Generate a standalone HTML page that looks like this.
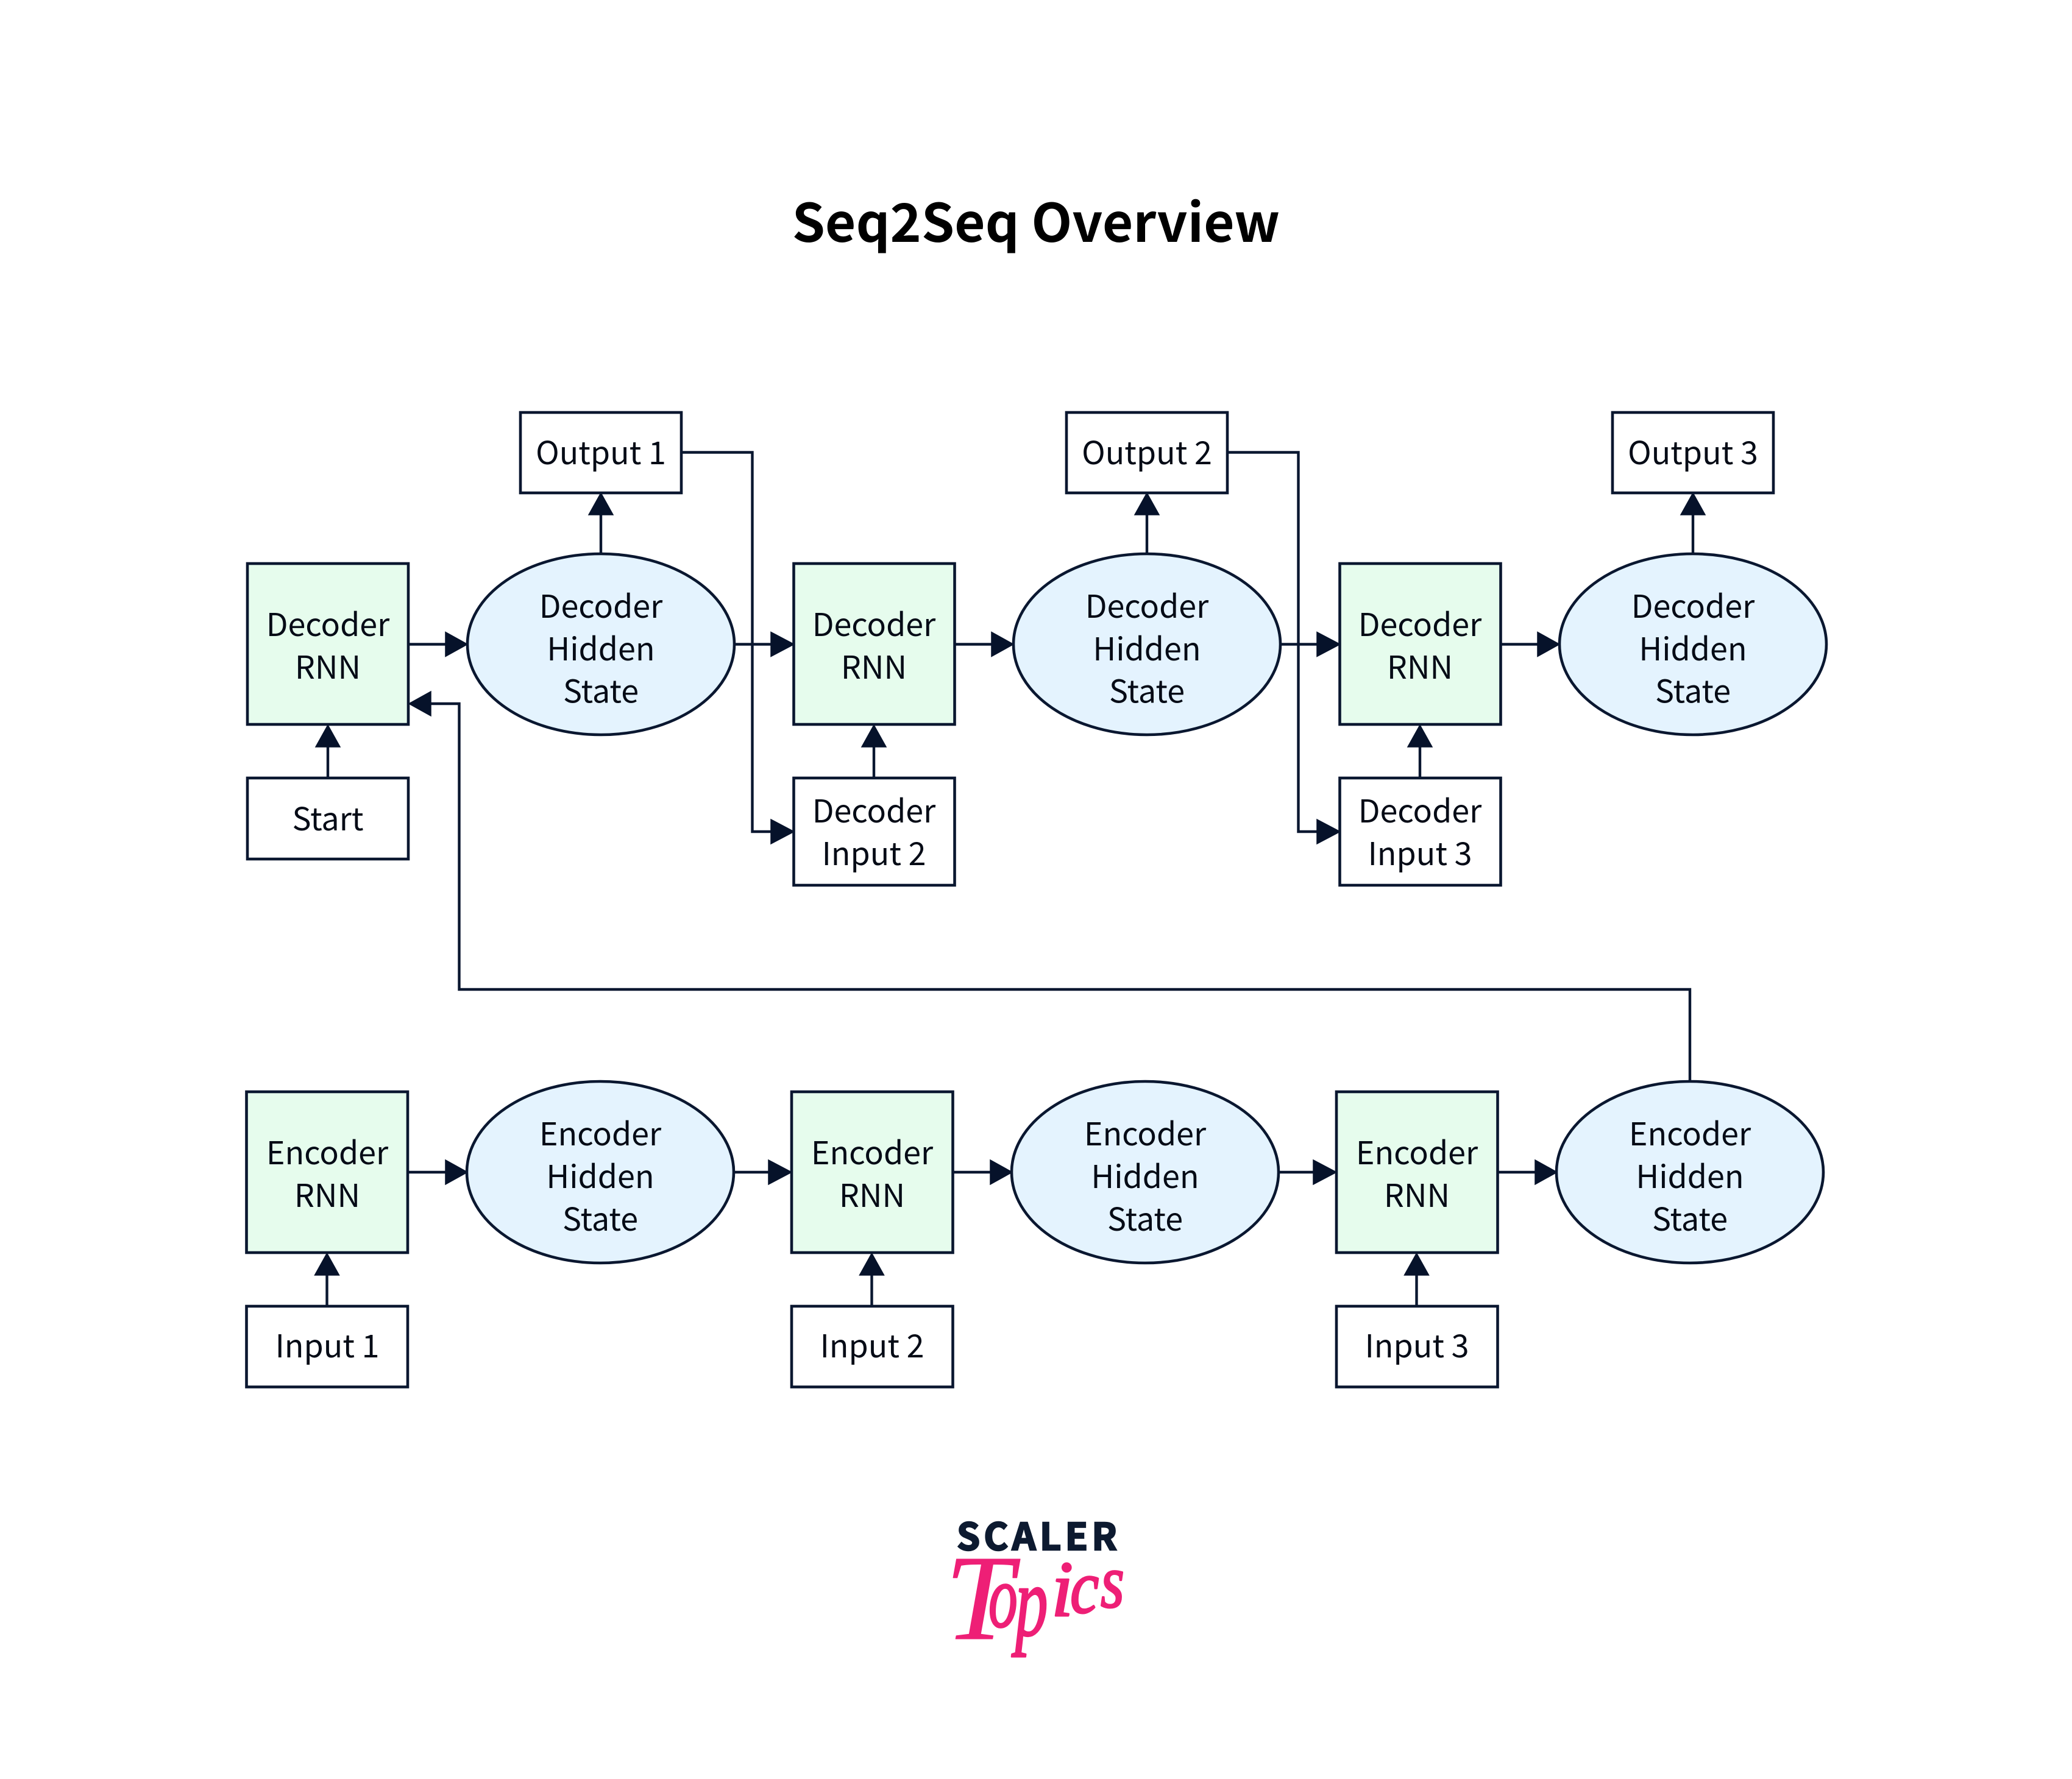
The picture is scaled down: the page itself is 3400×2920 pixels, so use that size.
<!DOCTYPE html>
<html><head><meta charset="utf-8"><style>
html,body{margin:0;padding:0;background:#fff}
svg{display:block}
.b{fill:#fff;stroke:#0a1730;stroke-width:4.6}
.g{fill:#e6fced;stroke:#0a1730;stroke-width:4.6}
.e{fill:#e4f3fe;stroke:#0a1730;stroke-width:4.6}
.l{fill:none;stroke:#0a1730;stroke-width:4.4}
.h{fill:#06122a;stroke:#06122a;stroke-width:1.5}
.t{font-family:"Noto Sans CJK JP","Liberation Sans",sans-serif;font-size:52px;fill:#050b16;text-anchor:middle}
.title{font-family:"Noto Sans CJK JP","Liberation Sans",sans-serif;font-size:87px;font-weight:700;fill:#000;text-anchor:middle}
.sc{font-family:"Noto Sans CJK JP","Liberation Sans",sans-serif;font-size:61px;font-weight:700;fill:#0d1a30;stroke:#0d1a30;stroke-width:2.5}
.tp{font-family:"Liberation Serif",serif;font-style:italic;fill:#ee1f76;stroke:#ee1f76;stroke-width:3;stroke-linejoin:round}
</style></head><body>
<svg width="3400" height="2920" viewBox="0 0 3400 2920" xmlns="http://www.w3.org/2000/svg">
<rect width="3400" height="2920" fill="#fff"/>
<text class="title" x="1700" y="397">Seq2Seq Overview</text>

<!-- top connectors -->
<path class="l" d="M670 1057.5H733M1205 1057.5H1267M1567 1057.5H1629M2101 1057.5H2163M2462 1057.5H2525
M986 909V844M1882 909V844M2778 909V844
M538 1277V1225M1434 1277V1225M2330 1277V1225
M1118 742.5H1234.5V1365H1267M2014 742.5H2130.5V1365H2163
M2773 1774V1624H753.5V1155H705"/>
<g class="h">
<path d="M731 1037.5L767 1057.5L731 1077.5Z"/>
<path d="M1265 1037.5L1303 1057.5L1265 1077.5Z"/>
<path d="M1627 1037.5L1663 1057.5L1627 1077.5Z"/>
<path d="M2161 1037.5L2199 1057.5L2161 1077.5Z"/>
<path d="M2523 1037.5L2559 1057.5L2523 1077.5Z"/>
<path d="M966 845L986 809L1006 845Z"/>
<path d="M1862 845L1882 809L1902 845Z"/>
<path d="M2758 845L2778 809L2798 845Z"/>
<path d="M518 1226L538 1190L558 1226Z"/>
<path d="M1414 1226L1434 1190L1454 1226Z"/>
<path d="M2310 1226L2330 1190L2350 1226Z"/>
<path d="M1265 1345L1303 1365L1265 1385Z"/>
<path d="M2161 1345L2199 1365L2161 1385Z"/>
<path d="M707 1135L671 1155L707 1175Z"/>
</g>

<!-- top nodes -->
<rect class="b" x="854" y="677" width="264" height="132"/>
<rect class="b" x="1750" y="677" width="264" height="132"/>
<rect class="b" x="2646" y="677" width="264" height="132"/>
<rect class="g" x="406" y="925" width="264" height="264"/>
<rect class="g" x="1302.5" y="925" width="264" height="264"/>
<rect class="g" x="2198.5" y="925" width="264" height="264"/>
<ellipse class="e" cx="986" cy="1057.5" rx="219" ry="148.5"/>
<ellipse class="e" cx="1882" cy="1057.5" rx="219" ry="148.5"/>
<ellipse class="e" cx="2778" cy="1057.5" rx="219" ry="148.5"/>
<rect class="b" x="406" y="1277" width="264" height="133"/>
<rect class="b" x="1302.5" y="1277" width="264" height="176"/>
<rect class="b" x="2198.5" y="1277" width="264" height="176"/>

<text class="t" x="986" y="762">Output 1</text>
<text class="t" x="1882" y="762">Output 2</text>
<text class="t" x="2778" y="762">Output 3</text>
<text class="t" x="538" y="1044">Decoder</text><text class="t" x="538" y="1114">RNN</text>
<text class="t" x="1434" y="1044">Decoder</text><text class="t" x="1434" y="1114">RNN</text>
<text class="t" x="2330" y="1044">Decoder</text><text class="t" x="2330" y="1114">RNN</text>
<text class="t" x="986" y="1014">Decoder</text><text class="t" x="986" y="1084">Hidden</text><text class="t" x="986" y="1153.5">State</text>
<text class="t" x="1882" y="1014">Decoder</text><text class="t" x="1882" y="1084">Hidden</text><text class="t" x="1882" y="1153.5">State</text>
<text class="t" x="2778" y="1014">Decoder</text><text class="t" x="2778" y="1084">Hidden</text><text class="t" x="2778" y="1153.5">State</text>
<text class="t" x="538" y="1363">Start</text>
<text class="t" x="1434" y="1350">Decoder</text><text class="t" x="1434" y="1420">Input 2</text>
<text class="t" x="2330" y="1350">Decoder</text><text class="t" x="2330" y="1420">Input 3</text>

<!-- bottom connectors -->
<path class="l" d="M669 1924H733M1203 1924H1263M1563 1924H1627M2097 1924H2157M2457 1924H2521
M536.5 2144V2092M1430.5 2144V2092M2324.5 2144V2092"/>
<g class="h">
<path d="M731 1904L767 1924L731 1944Z"/>
<path d="M1261 1904L1299 1924L1261 1944Z"/>
<path d="M1625 1904L1661 1924L1625 1944Z"/>
<path d="M2155 1904L2193 1924L2155 1944Z"/>
<path d="M2519 1904L2555 1924L2519 1944Z"/>
<path d="M516.5 2093L536.5 2057L556.5 2093Z"/>
<path d="M1410.5 2093L1430.5 2057L1450.5 2093Z"/>
<path d="M2304.5 2093L2324.5 2057L2344.5 2093Z"/>
</g>

<!-- bottom nodes -->
<rect class="g" x="404.5" y="1792" width="264.5" height="264"/>
<rect class="g" x="1299" y="1792" width="264.5" height="264"/>
<rect class="g" x="2193" y="1792" width="264.5" height="264"/>
<ellipse class="e" cx="985" cy="1924" rx="219" ry="149"/>
<ellipse class="e" cx="1879" cy="1924" rx="219" ry="149"/>
<ellipse class="e" cx="2773" cy="1924" rx="219" ry="149"/>
<rect class="b" x="404.5" y="2144" width="264.5" height="132.5"/>
<rect class="b" x="1299" y="2144" width="264.5" height="132.5"/>
<rect class="b" x="2193" y="2144" width="264.5" height="132.5"/>

<text class="t" x="537" y="1911">Encoder</text><text class="t" x="537" y="1981">RNN</text>
<text class="t" x="1431" y="1911">Encoder</text><text class="t" x="1431" y="1981">RNN</text>
<text class="t" x="2325" y="1911">Encoder</text><text class="t" x="2325" y="1981">RNN</text>
<text class="t" x="985" y="1880">Encoder</text><text class="t" x="985" y="1950">Hidden</text><text class="t" x="985" y="2020">State</text>
<text class="t" x="1879" y="1880">Encoder</text><text class="t" x="1879" y="1950">Hidden</text><text class="t" x="1879" y="2020">State</text>
<text class="t" x="2773" y="1880">Encoder</text><text class="t" x="2773" y="1950">Hidden</text><text class="t" x="2773" y="2020">State</text>
<text class="t" x="537" y="2228">Input 1</text>
<text class="t" x="1431" y="2228">Input 2</text>
<text class="t" x="2325" y="2228">Input 3</text>

<!-- logo -->
<text class="sc" x="1570" y="2544" textLength="263" lengthAdjust="spacing">SCALER</text>
<text class="tp" font-size="200" x="1551" y="2690" style="stroke-width:1">T</text>
<text class="tp" font-size="147" transform="translate(1622 2670) scale(.65 1)">o</text>
<text class="tp" font-size="165" transform="translate(1666 2684) scale(.65 1)">p</text>
<text class="tp" font-size="130" x="1725" y="2652">i</text>
<text class="tp" font-size="125" transform="translate(1756 2647) scale(.85 1)">c</text>
<text class="tp" font-size="125" transform="translate(1806 2638) scale(.8 1)">s</text>
</svg>
</body></html>
